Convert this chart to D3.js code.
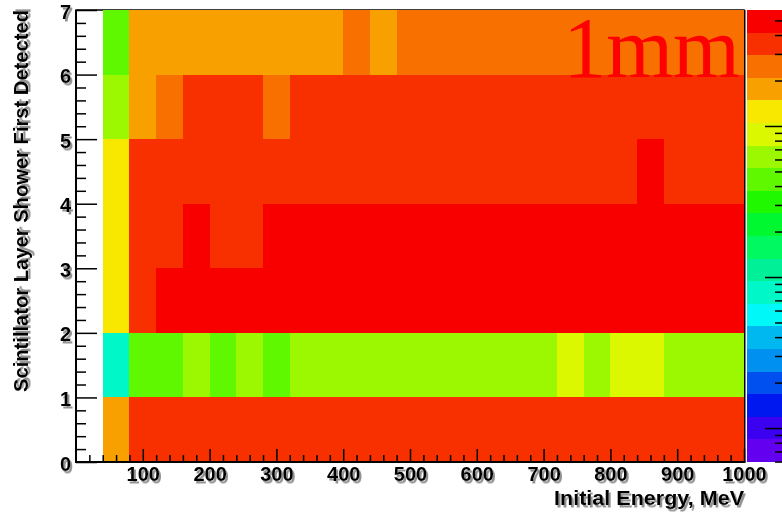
<!DOCTYPE html>
<html>
<head>
<meta charset="utf-8">
<script src="https://cdn.jsdelivr.net/npm/d3@7"></script>
<style>
  html, body { margin: 0; padding: 0; background: #ffffff; }
  svg { display: block; }
</style>
</head>
<body>
<svg id="chart" width="782" height="514"></svg>
<script>
// Low edges of the energy bins (MeV); each bin is 40 MeV wide
const energyBins = [40, 80, 120, 160, 200, 240, 280, 320, 360, 400, 440, 480,
                    520, 560, 600, 640, 680, 720, 760, 800, 840, 880, 920, 960];
const BIN_WIDTH = 40;

// Scintillator layer bins (low edges)
const layerBins = [0, 1, 2, 3, 4, 5, 6];

// Counts per energy bin for each layer
const layer0 = [176, 362, 348, 355, 341, 338, 352, 346, 357, 344, 350, 339,
                353, 347, 360, 342, 336, 349, 355, 345, 351, 340, 358, 344];
const layer1 = [8, 45, 43, 61, 46, 63, 44, 60, 62, 64, 59, 61,
                63, 65, 60, 62, 58, 86, 64, 89, 91, 63, 60, 61];
const layer2 = [124, 352, 488, 502, 495, 480, 510, 497, 489, 505, 492, 484,
                499, 507, 491, 486, 500, 494, 483, 509, 496, 488, 503, 490];
const layer3 = [127, 348, 355, 486, 343, 357, 492, 499, 485, 503, 490, 481,
                496, 504, 488, 493, 479, 498, 506, 487, 495, 482, 500, 491];
const layer4 = [122, 356, 344, 350, 361, 339, 347, 358, 342, 353, 346, 340,
                357, 349, 344, 352, 359, 343, 351, 346, 489, 355, 341, 348];
const layer5 = [61, 178, 246, 354, 341, 347, 251, 352, 345, 358, 340, 349,
                356, 343, 351, 347, 339, 355, 344, 352, 348, 342, 357, 346];
const layer6 = [45, 174, 180, 172, 177, 181, 175, 170, 179, 247, 176, 252,
                244, 250, 246, 255, 241, 249, 253, 245, 248, 251, 243, 247];
const layerCounts = [layer0, layer1, layer2, layer3, layer4, layer5, layer6];

// Axis ticks and texts
const xMajorTicks = [100, 200, 300, 400, 500, 600, 700, 800, 900, 1000];
const yMajorTicks = [0, 1, 2, 3, 4, 5, 6, 7];
const xTitle = "Initial Energy, MeV";
const yTitle = "Scintillator Layer Shower First Detected";
const annotation = "1mm";

// Colour palette, lowest band first
const paletteColors = [
  "#6400f0", "#3c00f0", "#0018f0", "#0050f0", "#0090f0",
  "#00b8f0", "#00f8f8", "#00f8c8", "#00f098", "#00f860",
  "#00f830", "#20f800", "#60f800", "#9cf800", "#dcf800",
  "#f8e800", "#f8a000", "#f87000", "#f83000", "#f80000"
];
const Z_MIN = 0.596, Z_MAX = 586;

// ---- layout ----
const frame = { left: 76, right: 744, top: 10, bottom: 462 };
const paletteBox = { left: 747, right: 783 };
const labelFont = "'Liberation Sans', Arial, sans-serif";

const svg = d3.select("#chart");

const defs = svg.append("defs");
const shadow = defs.append("filter").attr("id", "txtShadow")
  .attr("x", "-20%").attr("y", "-20%").attr("width", "140%").attr("height", "160%");
shadow.append("feDropShadow")
  .attr("dx", 2).attr("dy", 2.5).attr("stdDeviation", 0.7)
  .attr("flood-color", "#808080").attr("flood-opacity", 0.85);

const x = d3.scaleLinear().domain([0, 1000]).range([frame.left, frame.right]);
const y = d3.scaleLinear().domain([0, 7]).range([frame.bottom, frame.top]);

const zBand = d3.scaleLog().domain([Z_MIN, Z_MAX]).range([0, paletteColors.length]);
const zAxis = d3.scaleLog().domain([Z_MIN, Z_MAX]).range([frame.bottom, frame.top]);
const colorOf = v => paletteColors[Math.max(0, Math.min(paletteColors.length - 1, Math.floor(zBand(v))))];

// frame outline (cells are painted over it)
svg.append("rect")
  .attr("x", frame.left).attr("y", frame.top)
  .attr("width", frame.right - frame.left).attr("height", frame.bottom - frame.top)
  .attr("fill", "none").attr("stroke", "#000").attr("stroke-width", 1.5);

// ---- histogram cells ----
const cells = [];
layerBins.forEach((layer, li) => {
  energyBins.forEach((e, ei) => {
    cells.push({ e, layer, v: layerCounts[li][ei] });
  });
});

svg.append("g").attr("class", "cells")
  .selectAll("rect").data(cells).join("rect")
  .attr("x", d => x(d.e))
  .attr("y", d => y(d.layer + 1))
  .attr("width", d => x(d.e + BIN_WIDTH) - x(d.e))
  .attr("height", d => y(d.layer) - y(d.layer + 1))
  .attr("fill", d => colorOf(d.v))
  .attr("shape-rendering", "crispEdges");

// right frame edge
svg.append("line")
  .attr("x1", frame.right + 0.75).attr("x2", frame.right + 0.75)
  .attr("y1", frame.top).attr("y2", frame.bottom)
  .attr("stroke", "#000").attr("stroke-width", 1.5);

// ---- x axis ----
const xMinor = d3.range(0, 1001, 20).filter(v => v % 100 !== 0);
const gx = svg.append("g").attr("transform", `translate(0,${frame.bottom})`);
gx.call(d3.axisBottom(x).tickValues(xMinor).tickSize(-7).tickFormat(""));
gx.select(".domain").remove();
const gxMaj = svg.append("g").attr("transform", `translate(0,${frame.bottom})`);
gxMaj.call(d3.axisBottom(x).tickValues(xMajorTicks).tickFormat(d => String(d))
  .tickSizeInner(-13).tickSizeOuter(0).tickPadding(5));
gxMaj.select(".domain").remove();
[gx, gxMaj].forEach(g => g.selectAll("line").attr("stroke", "#000").attr("stroke-width", 1.5));
gxMaj.selectAll("text")
  .attr("font-family", labelFont)
  .attr("font-weight", "bold").attr("font-size", 20).attr("fill", "#000")
  .attr("filter", "url(#txtShadow)");

// ---- y axis ----
const yMinor = d3.range(0, 35).map(i => i / 5).filter(v => Math.abs(v - Math.round(v)) > 1e-6);
const gy = svg.append("g").attr("transform", `translate(${frame.left},0)`);
gy.call(d3.axisLeft(y).tickValues(yMinor).tickSize(-10).tickFormat(""));
gy.select(".domain").remove();
const gyMaj = svg.append("g").attr("transform", `translate(${frame.left},0)`);
gyMaj.call(d3.axisLeft(y).tickValues(yMajorTicks).tickFormat(d => String(d))
  .tickSizeInner(-21).tickSizeOuter(0).tickPadding(5));
gyMaj.select(".domain").remove();
[gy, gyMaj].forEach(g => g.selectAll("line").attr("stroke", "#000").attr("stroke-width", 1.5));
gyMaj.selectAll("text")
  .attr("dy", "0.4em")
  .attr("font-family", labelFont)
  .attr("font-weight", "bold").attr("font-size", 20).attr("fill", "#000")
  .attr("filter", "url(#txtShadow)");

// axis lines
svg.append("line")
  .attr("x1", frame.left).attr("x2", frame.left)
  .attr("y1", frame.top).attr("y2", frame.bottom + 1)
  .attr("stroke", "#000").attr("stroke-width", 2);
svg.append("line")
  .attr("x1", frame.left).attr("x2", frame.right + 1.5)
  .attr("y1", frame.bottom).attr("y2", frame.bottom)
  .attr("stroke", "#000").attr("stroke-width", 2);

// ---- axis titles ----
svg.append("text")
  .attr("x", frame.right).attr("y", 505)
  .attr("text-anchor", "end")
  .attr("font-family", labelFont)
  .attr("font-weight", "bold").attr("font-size", 21)
  .attr("textLength", 190).attr("lengthAdjust", "spacingAndGlyphs")
  .attr("filter", "url(#txtShadow)")
  .text(xTitle);

svg.append("text")
  .attr("transform", `translate(28,${frame.top}) rotate(-90)`)
  .attr("text-anchor", "end")
  .attr("font-family", labelFont)
  .attr("font-weight", "bold").attr("font-size", 20)
  .attr("textLength", 382).attr("lengthAdjust", "spacingAndGlyphs")
  .attr("filter", "url(#txtShadow)")
  .text(yTitle);

// ---- annotation ----
svg.append("text")
  .attr("x", 740).attr("y", 77)
  .attr("text-anchor", "end")
  .attr("font-family", "'Liberation Serif', 'Times New Roman', serif")
  .attr("font-size", 86).attr("fill", "#ff0000")
  .text(annotation);

// ---- colour palette ----
const bands = paletteColors.map((c, k) => ({ c, lo: zBand.invert(k), hi: zBand.invert(k + 1) }));
svg.append("g").selectAll("rect").data(bands).join("rect")
  .attr("x", paletteBox.left)
  .attr("y", d => zAxis(d.hi))
  .attr("width", paletteBox.right - paletteBox.left)
  .attr("height", d => zAxis(d.lo) - zAxis(d.hi))
  .attr("fill", d => d.c)
  .attr("shape-rendering", "crispEdges");

const zTicks = zAxis.ticks();
const isDecade = v => Math.abs(Math.log10(v) - Math.round(Math.log10(v))) < 1e-6;
const gz = svg.append("g").attr("transform", `translate(782,0)`);
gz.call(d3.axisLeft(zAxis).tickValues(zTicks.filter(v => !isDecade(v))).tickSize(7).tickFormat(""));
gz.select(".domain").remove();
const gzMaj = svg.append("g").attr("transform", `translate(782,0)`);
gzMaj.call(d3.axisLeft(zAxis).tickValues(zTicks.filter(isDecade)).tickSize(17).tickFormat(""));
gzMaj.select(".domain").remove();
[gz, gzMaj].forEach(g => g.selectAll("line").attr("stroke", "#000").attr("stroke-width", 1.5));
</script>
</body>
</html>
